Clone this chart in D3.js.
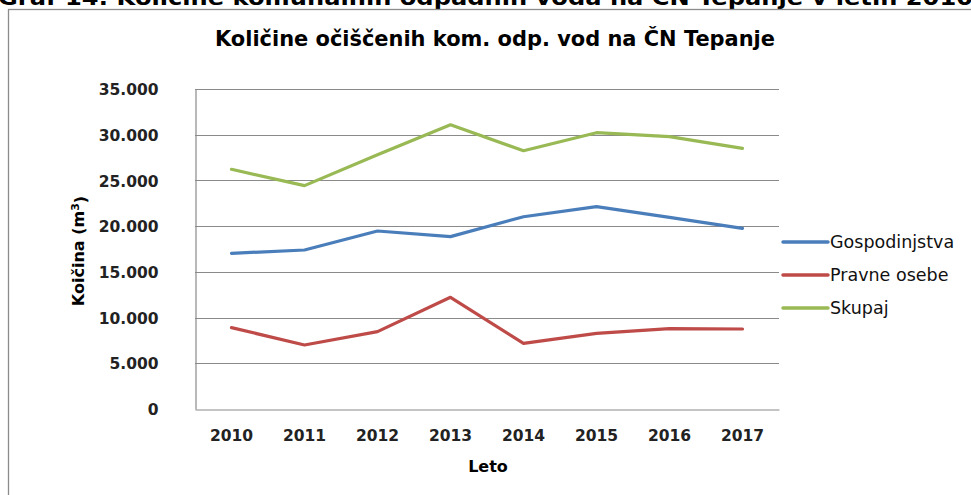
<!DOCTYPE html>
<html>
<head>
<meta charset="utf-8">
<script src="https://cdn.jsdelivr.net/npm/d3@7"></script>
<style>
  body { margin: 0; background: #fff; }
  svg { display: block; }
</style>
</head>
<body>
<svg id="chart" width="971" height="495"></svg>
<script>
// data
const years = ["2010", "2011", "2012", "2013", "2014", "2015", "2016", "2017"];
const gospodinjstva = [17030, 17390, 19470, 18850, 21030, 22130, 20960, 19760];
const pravneOsebe = [8900, 7000, 8460, 12220, 7180, 8280, 8790, 8750];
const skupaj = [26220, 24430, 27800, 31080, 28250, 30220, 29790, 28510];
const yTicks = [0, 5000, 10000, 15000, 20000, 25000, 30000, 35000];

const series = [
    { name: "Gospodinjstva", values: gospodinjstva, color: "#4a7ebb" },
    { name: "Pravne osebe", values: pravneOsebe, color: "#be4b48" },
    { name: "Skupaj", values: skupaj, color: "#98b954" }
];

const svg = d3.select("#chart");
const plotLeft = 195, plotRight = 779, plotTop = 89, plotBottom = 409;

// cut off caption above the chart
svg.append("text")
    .attr("x", -2)
    .attr("y", 5)
    .attr("textLength", 975)
    .attr("lengthAdjust", "spacingAndGlyphs")
    .style("font-family", "DejaVu Sans")
    .style("font-weight", "bold")
    .style("font-size", "21px")
    .text("Graf 14: Količine komunalnih odpadnih voda na ČN Tepanje v letih 2010");

// chart frame
svg.append("rect")
    .attr("x", 8.5).attr("y", 9.5)
    .attr("width", 975).attr("height", 500)
    .style("fill", "#fff")
    .style("stroke", "#8c8c8c")
    .style("stroke-width", 1.3);

svg.append("text")
    .attr("x", 495)
    .attr("y", 46)
    .attr("text-anchor", "middle")
    .attr("textLength", 560)
    .attr("lengthAdjust", "spacingAndGlyphs")
    .style("font-family", "DejaVu Sans")
    .style("font-weight", "bold")
    .style("font-size", "21px")
    .text("Količine očiščenih kom. odp. vod na ČN Tepanje");

const x = d3.scaleBand().domain(years).range([plotLeft, plotRight]);
const y = d3.scaleLinear().domain([0, 35000]).range([plotBottom, plotTop]);

const fmt = v => d3.format(",")(v).replace(/,/g, ".");

// gridlines
svg.append("g")
    .selectAll("line")
    .data(yTicks.slice(1))
    .enter()
    .append("line")
    .attr("x1", plotLeft).attr("x2", plotRight)
    .attr("y1", d => Math.round(y(d)) + 0.5)
    .attr("y2", d => Math.round(y(d)) + 0.5)
    .style("stroke", "#8a8a8a")
    .style("stroke-width", 1.2);

const yAxis = svg.append("g")
    .attr("transform", `translate(${plotLeft + 0.5},0)`)
    .call(d3.axisLeft(y).tickValues(yTicks).tickFormat(fmt).tickSize(0).tickPadding(37));
const xAxis = svg.append("g")
    .attr("transform", `translate(0,${plotBottom + 0.5})`)
    .call(d3.axisBottom(x).tickSize(0).tickPadding(20));

[yAxis, xAxis].forEach(ax => {
    ax.select(".domain").style("stroke", "#8a8a8a").style("stroke-width", 1.2);
    ax.selectAll("text")
        .style("font-family", "DejaVu Sans")
        .style("font-weight", "bold")
        .style("font-size", "15.5px")
        .style("fill", "#222");
});
yAxis.selectAll("text").attr("dy", "0.36em");

// axis titles
svg.append("text")
    .attr("x", 488)
    .attr("y", 472)
    .attr("text-anchor", "middle")
    .style("font-family", "DejaVu Sans")
    .style("font-weight", "bold")
    .style("font-size", "16px")
    .text("Leto");

const yTitle = svg.append("text")
    .attr("transform", "translate(84,251) rotate(-90)")
    .attr("text-anchor", "middle")
    .style("font-family", "DejaVu Sans")
    .style("font-weight", "bold")
    .style("font-size", "16px");
yTitle.append("tspan").text("Koičina (m");
yTitle.append("tspan").attr("dy", "-0.45em").style("font-size", "11px").text("3");
yTitle.append("tspan").attr("dy", "0.45em").text(")");

// lines
const line = d3.line()
    .x((d, i) => x(years[i]) + x.bandwidth() / 2)
    .y(d => y(d));

svg.append("g")
    .selectAll("path")
    .data(series)
    .enter()
    .append("path")
    .attr("d", d => line(d.values))
    .style("fill", "none")
    .style("stroke", d => d.color)
    .style("stroke-width", 3.2)
    .style("stroke-linejoin", "round")
    .style("stroke-linecap", "round");

// legend
const legend = svg.append("g")
    .selectAll("g")
    .data(series)
    .enter()
    .append("g")
    .attr("transform", (d, i) => `translate(783,${242 + i * 33})`);

legend.append("line")
    .attr("x1", 0).attr("x2", 45)
    .style("stroke", d => d.color)
    .style("stroke-width", 3.5)
    .style("stroke-linecap", "round");

legend.append("text")
    .attr("x", 47)
    .attr("dy", "0.35em")
    .style("font-family", "DejaVu Sans")
    .style("font-size", "17.5px")
    .style("fill", "#111")
    .text(d => d.name);
</script>
</body>
</html>
